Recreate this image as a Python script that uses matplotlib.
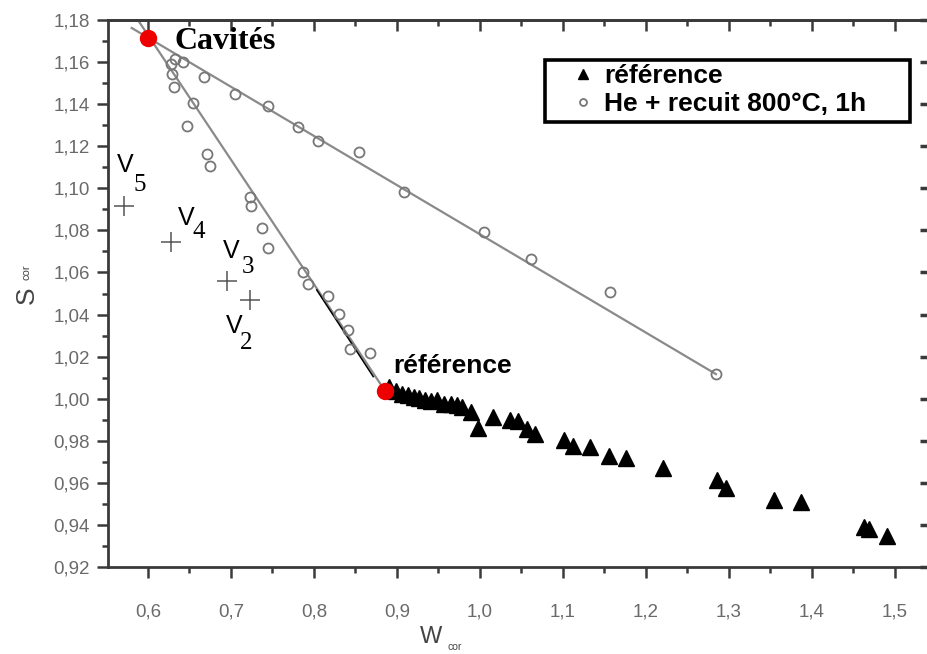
import matplotlib
matplotlib.use("Agg")
import matplotlib.pyplot as plt
from matplotlib.lines import Line2D
from matplotlib.patches import Rectangle
from matplotlib.ticker import MultipleLocator, FuncFormatter, NullLocator

plt.rcParams["font.family"] = ["Liberation Sans", "DejaVu Sans"]

# ---------------- data ----------------
# reference samples (filled triangles)
ref_w = [0.8904, 0.8988, 0.9060, 0.9133, 0.9205, 0.9265, 0.9337, 0.9410, 0.9482,
         0.9566, 0.9651, 0.9723, 0.9783, 0.9892, 0.9976, 1.0157, 1.0361, 1.0458,
         1.0566, 1.0663, 1.1012, 1.1120, 1.1325, 1.1554, 1.1759, 1.2205, 1.2855,
         1.2964, 1.3542, 1.3867, 1.4627, 1.4687, 1.4904]
ref_s = [1.0056, 1.0037, 1.0022, 1.0018, 1.0008, 1.0003, 0.9994, 0.9989, 0.9994,
         0.9975, 0.9975, 0.9970, 0.9960, 0.9937, 0.9861, 0.9913, 0.9899, 0.9894,
         0.9856, 0.9832, 0.9804, 0.9775, 0.9770, 0.9728, 0.9718, 0.9671, 0.9613,
         0.9575, 0.9518, 0.9509, 0.9390, 0.9381, 0.9347]

# He + recuit 800°C, 1h (open circles)
he_w = [0.6325, 0.6425, 0.6277, 0.6293, 0.6313, 0.6539, 0.6678, 0.7048, 0.7449,
        0.7811, 0.8052, 0.6466, 0.6707, 0.6747, 0.7229, 0.7237, 0.7370, 0.7449,
        0.7867, 0.7931, 0.8163, 0.8301, 0.8410, 0.8434, 0.8675, 0.8542, 0.9084,
        1.0048, 1.0611, 1.1566, 1.2843]
he_s = [1.1613, 1.1599, 1.1589, 1.1543, 1.1483, 1.1407, 1.1530, 1.1447, 1.1391,
        1.1290, 1.1226, 1.1296, 1.1163, 1.1108, 1.0961, 1.0918, 1.0810, 1.0716,
        1.0602, 1.0545, 1.0488, 1.0403, 1.0326, 1.0236, 1.0219, 1.1174, 1.0981,
        1.0794, 1.0663, 1.0509, 1.0117]

# vacancy clusters V5..V2 (crosses)
v_names = ["5", "4", "3", "2"]
v_w = [0.5711, 0.6277, 0.6948, 0.7229]
v_s = [1.0916, 1.0746, 1.0561, 1.0469]

# characteristic points (red)
pt_names = ["Cavités", "référence"]
pt_w = [0.600, 0.8855]
pt_s = [1.1714, 1.0038]

# straight lines
line_up_w = [0.5804, 1.2843]
line_up_s = [1.1762, 1.0117]
line_steep_w = [0.5892, 0.8855]
line_steep_s = [1.1792, 1.0038]
line_black_w = [0.8033, 0.8714]
line_black_s = [1.0517, 1.0105]

legend_labels = ["référence", "He + recuit 800°C, 1h"]

# ---------------- figure ----------------
W_PX, H_PX = 927, 654
fig = plt.figure(figsize=(W_PX / 100, H_PX / 100), dpi=100)
ax_l, ax_r, ax_t, ax_b = 108, 931, 20, 567
ax = fig.add_axes([ax_l / W_PX, 1 - ax_b / H_PX, (ax_r - ax_l) / W_PX, (ax_b - ax_t) / H_PX])
ax.set_xlim(0.5518, 1.5435)
ax.set_ylim(0.92, 1.18)

gray_line = "#8a8a8a"
ax.plot(line_up_w, line_up_s, color=gray_line, lw=1.6, zorder=2)
ax.plot(line_steep_w, line_steep_s, color=gray_line, lw=1.6, zorder=2)
ax.plot(line_black_w, line_black_s, color="black", lw=1.1, zorder=3)

ax.plot(he_w, he_s, linestyle="none", marker="o", markersize=7.2,
        markerfacecolor="none", markeredgecolor="#777777", markeredgewidth=1.3, zorder=4)
ax.plot(ref_w, ref_s, linestyle="none", marker="^", markersize=11.5,
        color="black", zorder=5)
ax.plot(v_w, v_s, linestyle="none", marker="+", markersize=15,
        markeredgewidth=1.1, color="#555555", zorder=4)
ax.plot(pt_w, pt_s, linestyle="none", marker="o", markersize=11.5,
        color="#ee0000", markeredgecolor="#ee0000", zorder=6)

# labels
ax.text(0.6325, 1.1662, pt_names[0], family="Liberation Serif", fontweight="bold",
        fontsize=23, ha="left", va="baseline", zorder=7)
ax.text(0.8952, 1.0122, pt_names[1], family="Liberation Sans", fontweight="bold",
        fontsize=19, ha="left", va="baseline", zorder=7)

v_label_pos = [((0.5627, 1.1078), (0.5831, 1.0987)),
               ((0.6361, 1.0826), (0.6542, 1.0764)),
               ((0.6904, 1.0669), (0.7133, 1.0597)),
               ((0.6940, 1.0312), (0.7108, 1.0236))]
for name, (vp, np_) in zip(v_names, v_label_pos):
    ax.text(vp[0], vp[1], "V", family="Liberation Sans", fontsize=18,
            ha="left", va="baseline")
    ax.text(np_[0], np_[1], name, family="Liberation Serif", fontsize=18,
            ha="left", va="baseline")

# legend: box drawn separately, entries via legend without frame
def ax_frac(px, py):
    return ((px - ax_l) / (ax_r - ax_l), 1 - (py - ax_t) / (ax_b - ax_t))

bx0, by0 = ax_frac(545, 122)
bx1, by1 = ax_frac(910, 60)
ax.add_patch(Rectangle((bx0, by0), bx1 - bx0, by1 - by0, transform=ax.transAxes,
                       facecolor="white", edgecolor="black", lw=2.6, zorder=8,
                       clip_on=False))
handles = [Line2D([], [], linestyle="none", marker="^", markersize=7, color="black"),
           Line2D([], [], linestyle="none", marker="o", markersize=5,
                  markerfacecolor="none", markeredgecolor="#777777", markeredgewidth=1.3)]
leg = ax.legend(handles, legend_labels, loc="upper left",
                bbox_to_anchor=ax_frac(572.5, 64), borderaxespad=0, frameon=False,
                prop={"family": "Liberation Sans", "weight": "bold", "size": 19},
                labelspacing=0.17, borderpad=0, handlelength=0.8,
                handletextpad=0.4)
leg.set_zorder(9)

# axes styling
spine_col = "#3a3a3a"
for side in ["left", "bottom", "top", "right"]:
    ax.spines[side].set_color(spine_col)
    ax.spines[side].set_linewidth(2.0)

ax.xaxis.set_major_locator(MultipleLocator(0.1))
ax.xaxis.set_minor_locator(MultipleLocator(0.05))
ax.yaxis.set_major_locator(MultipleLocator(0.02))
ax.yaxis.set_minor_locator(MultipleLocator(0.01))
ax.xaxis.set_major_formatter(FuncFormatter(lambda v, p: f"{v:.1f}".replace(".", ",")))
ax.yaxis.set_major_formatter(FuncFormatter(lambda v, p: f"{v:.2f}".replace(".", ",")))

ax.tick_params(axis="both", which="both", color=spine_col, width=1.8,
               top=False, right=False)
ax.tick_params(axis="y", which="major", direction="out", length=8, pad=5,
               labelsize=13.5, labelcolor="#6a6a6a")
ax.tick_params(axis="y", which="minor", direction="out", length=4)
ax.tick_params(axis="x", which="major", direction="out", length=8, pad=18,
               labelsize=13.5, labelcolor="#6a6a6a")
ax.tick_params(axis="x", which="minor", direction="out", length=4)

# inward ticks on top and right
secx = ax.secondary_xaxis("top")
secx.xaxis.set_major_locator(MultipleLocator(0.1))
secx.xaxis.set_minor_locator(MultipleLocator(0.05))
secx.tick_params(axis="x", which="major", direction="in", length=8, width=1.8,
                 color=spine_col, labeltop=False)
secx.tick_params(axis="x", which="minor", direction="in", length=4, width=1.8,
                 color=spine_col)
secx.spines["top"].set_color(spine_col)
secx.spines["top"].set_linewidth(2.0)

secy = ax.secondary_yaxis("right")
secy.yaxis.set_major_locator(MultipleLocator(0.02))
secy.yaxis.set_minor_locator(NullLocator())
secy.tick_params(axis="y", which="major", direction="in", length=8, width=2.5,
                 color=spine_col, labelright=False)
secy.spines["right"].set_color(spine_col)
secy.spines["right"].set_linewidth(2.0)

# axis titles
fig.text(420 / W_PX, 1 - 643 / H_PX, "W", fontsize=17,
         color="#444444", ha="left", va="baseline")
fig.text(447 / W_PX, 1 - 650 / H_PX, "cor", fontsize=7.5,
         color="#444444", ha="left", va="baseline")
fig.text(27 / W_PX, 1 - 295 / H_PX, "S", fontsize=19,
         color="#444444", ha="center", va="center", rotation=90)
fig.text(26 / W_PX, 1 - 272 / H_PX, "cor", fontsize=8,
         color="#444444", ha="center", va="center", rotation=90)

fig.savefig("out.png", dpi=100, facecolor="white")
